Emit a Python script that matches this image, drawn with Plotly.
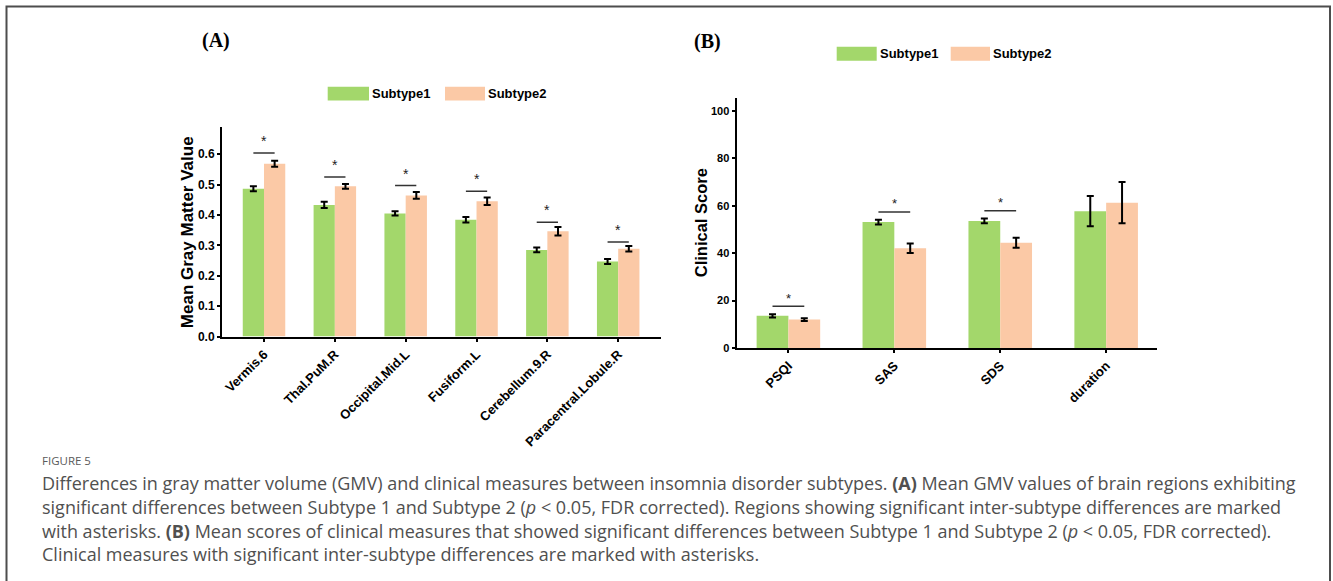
import plotly.graph_objects as go

W, H = 1333, 581

# ---- Panel A: mean gray matter values per region ----
regions = ["Vermis.6", "Thal.PuM.R", "Occipital.Mid.L", "Fusiform.L",
           "Cerebellum.9.R", "Paracentral.Lobule.R"]
gmv_sub1 = [0.486, 0.433, 0.405, 0.384, 0.285, 0.247]
gmv_sub1_err = [0.008, 0.010, 0.007, 0.009, 0.008, 0.008]
gmv_sub2 = [0.568, 0.494, 0.464, 0.445, 0.346, 0.289]
gmv_sub2_err = [0.010, 0.008, 0.011, 0.012, 0.014, 0.009]
gmv_sig = [True, True, True, True, True, True]
gmv_ticks = [0.0, 0.1, 0.2, 0.3, 0.4, 0.5, 0.6]

# ---- Panel B: clinical scores ----
measures = ["PSQI", "SAS", "SDS", "duration"]
clin_sub1 = [13.6, 53.1, 53.6, 57.7]
clin_sub1_err = [0.7, 1.0, 1.0, 6.4]
clin_sub2 = [12.0, 42.1, 44.4, 61.3]
clin_sub2_err = [0.6, 2.0, 2.1, 8.7]
clin_sig = [True, True, True, False]
clin_ticks = [0, 20, 40, 60, 80, 100]

GREEN = "#a3d76b"
PEACH = "#fbc9a6"
AXIS_FONT = "Liberation Sans, Arial, sans-serif"


def px_x(x):
    return x / W


def px_y(y):
    return 1 - y / H


fig = go.Figure()


def add_pair(xaxis, yaxis, names, v1, e1, v2, e2, err_w):
    idx = list(range(len(names)))
    for vals, errs, color, label in ((v1, e1, GREEN, "Subtype1"),
                                     (v2, e2, PEACH, "Subtype2")):
        fig.add_trace(go.Bar(
            x=idx, y=vals, name=label, marker=dict(color=color, line=dict(width=0)),
            error_y=dict(type="data", array=errs, color="black",
                         thickness=2, width=err_w),
            xaxis=xaxis, yaxis=yaxis, showlegend=False,
        ))


add_pair("x", "y", regions, gmv_sub1, gmv_sub1_err, gmv_sub2, gmv_sub2_err, 3.5)
add_pair("x2", "y2", measures, clin_sub1, clin_sub1_err, clin_sub2, clin_sub2_err, 3.5)

axis_common = dict(showline=True, linecolor="black", linewidth=2, ticks="outside",
                   ticklen=3, tickwidth=1.5, tickcolor="black", showgrid=False,
                   zeroline=False, fixedrange=True)

fig.update_layout(
    width=W, height=H,
    margin=dict(l=0, r=0, t=0, b=0),
    paper_bgcolor="white", plot_bgcolor="white",
    barmode="group", bargap=0.4, bargroupgap=0,
    showlegend=False,
    xaxis=dict(domain=[px_x(222), px_x(660.7)], range=[-0.593, 5.6],
               tickvals=list(range(len(regions))), ticktext=regions, tickangle=-45,
               tickfont=dict(family=AXIS_FONT, size=13, color="black", weight="bold"),
               anchor="y", **axis_common),
    yaxis=dict(domain=[px_y(340.7), px_y(129)], range=[0, 0.6876],
               tickvals=gmv_ticks, ticktext=[f"{t:.1f}" for t in gmv_ticks],
               tickfont=dict(family=AXIS_FONT, size=12, color="black", weight="bold"),
               anchor="x", **axis_common),
    xaxis2=dict(domain=[px_x(736.5), px_x(1157)], range=[-0.49, 3.48],
                tickvals=list(range(len(measures))), ticktext=measures, tickangle=-45,
                tickfont=dict(family=AXIS_FONT, size=13, color="black", weight="bold"),
                anchor="y2", **axis_common),
    yaxis2=dict(domain=[px_y(352.3), px_y(99)], range=[0, 105.5],
                tickvals=clin_ticks,
                tickfont=dict(family=AXIS_FONT, size=11, color="black", weight="bold"),
                anchor="x2", **axis_common),
)

shapes = []
annotations = []

# significance brackets with asterisks
for i, sig in enumerate(gmv_sig):
    if not sig:
        continue
    top = max(gmv_sub1[i] + gmv_sub1_err[i], gmv_sub2[i] + gmv_sub2_err[i])
    yl = top * 1.045
    shapes.append(dict(type="line", xref="x", yref="y", x0=i - 0.15, x1=i + 0.15,
                       y0=yl, y1=yl, line=dict(color="#333333", width=1.5)))
    annotations.append(dict(x=i, y=yl, xref="x", yref="y", text="*", showarrow=False,
                            yanchor="middle", yshift=12,
                            font=dict(family=AXIS_FONT, size=14, color="#222222")))

for i, sig in enumerate(clin_sig):
    if not sig:
        continue
    top = max(clin_sub1[i] + clin_sub1_err[i], clin_sub2[i] + clin_sub2_err[i])
    yl = top + 3.3
    shapes.append(dict(type="line", xref="x2", yref="y2", x0=i - 0.15, x1=i + 0.15,
                       y0=yl, y1=yl, line=dict(color="#333333", width=1.5)))
    annotations.append(dict(x=i, y=yl, xref="x2", yref="y2", text="*", showarrow=False,
                            yanchor="middle", yshift=8,
                            font=dict(family=AXIS_FONT, size=13, color="#222222")))

# axis titles
annotations.append(dict(x=px_x(187), y=px_y(235), xref="paper", yref="paper",
                        text="<b>Mean Gray Matter Value</b>", textangle=-90,
                        showarrow=False, xanchor="center", yanchor="middle",
                        font=dict(family=AXIS_FONT, size=17, color="black")))
annotations.append(dict(x=px_x(701), y=px_y(226), xref="paper", yref="paper",
                        text="<b>Clinical Score</b>", textangle=-90,
                        showarrow=False, xanchor="center", yanchor="middle",
                        font=dict(family=AXIS_FONT, size=16.5, color="black")))

# panel labels
for lbl, x, y in (("(A)", 216.5, 41), ("(B)", 707.5, 42)):
    annotations.append(dict(x=px_x(x), y=px_y(y), xref="paper", yref="paper",
                            text=f"<b>{lbl}</b>", showarrow=False,
                            xanchor="center", yanchor="middle",
                            font=dict(family="Liberation Serif, Times New Roman, serif",
                                      size=20, color="black")))

# legend swatches
legend_rows = [
    ((327.7, 369), (445, 485), 94.7),
    ((836.7, 876.7), (950.7, 990), 54.4),
]
for (g0, g1), (p0, p1), yc in legend_rows:
    for (a, b), color, label in (((g0, g1), GREEN, "Subtype1"),
                                 ((p0, p1), PEACH, "Subtype2")):
        shapes.append(dict(type="rect", xref="paper", yref="paper",
                           x0=px_x(a), x1=px_x(b), y0=px_y(yc + 7), y1=px_y(yc - 7),
                           fillcolor=color, line=dict(width=0)))
        annotations.append(dict(x=px_x(b + 1), y=px_y(yc), xref="paper", yref="paper",
                                text=f"<b>{label}</b>", showarrow=False,
                                xanchor="left", yanchor="middle",
                                font=dict(family=AXIS_FONT, size=13, color="black")))

# outer frame
shapes.append(dict(type="rect", xref="paper", yref="paper",
                   x0=px_x(6.5), x1=px_x(1330), y0=-0.1, y1=px_y(6.5),
                   line=dict(color="#4d4d4d", width=2), fillcolor="rgba(0,0,0,0)"))

# caption
CAP_FONT = "Open Sans, Lato, sans-serif"
annotations.append(dict(x=px_x(40), y=px_y(466), xref="paper", yref="paper",
                        text="FIGURE 5", showarrow=False, xanchor="left",
                        yanchor="middle",
                        font=dict(family=CAP_FONT, size=11.5, color="#5a5a5a")))
caption_lines = [
    "Differences in gray matter volume (GMV) and clinical measures between insomnia "
    "disorder subtypes. <b>(A)</b> Mean GMV values of brain regions exhibiting",
    "significant differences between Subtype 1 and Subtype 2 (<i>p</i> &lt; 0.05, FDR "
    "corrected). Regions showing significant inter-subtype differences are marked",
    "with asterisks. <b>(B)</b> Mean scores of clinical measures that showed significant "
    "differences between Subtype 1 and Subtype 2 (<i>p</i> &lt; 0.05, FDR corrected).",
    "Clinical measures with significant inter-subtype differences are marked with asterisks.",
]
for k, line in enumerate(caption_lines):
    annotations.append(dict(x=px_x(40), y=px_y(489 + 24 * k), xref="paper",
                            yref="paper", text=line, showarrow=False,
                            xanchor="left", yanchor="middle",
                            font=dict(family=CAP_FONT, size=18, color="#505050")))

fig.update_layout(shapes=shapes, annotations=annotations)
fig.write_html("out.html")
